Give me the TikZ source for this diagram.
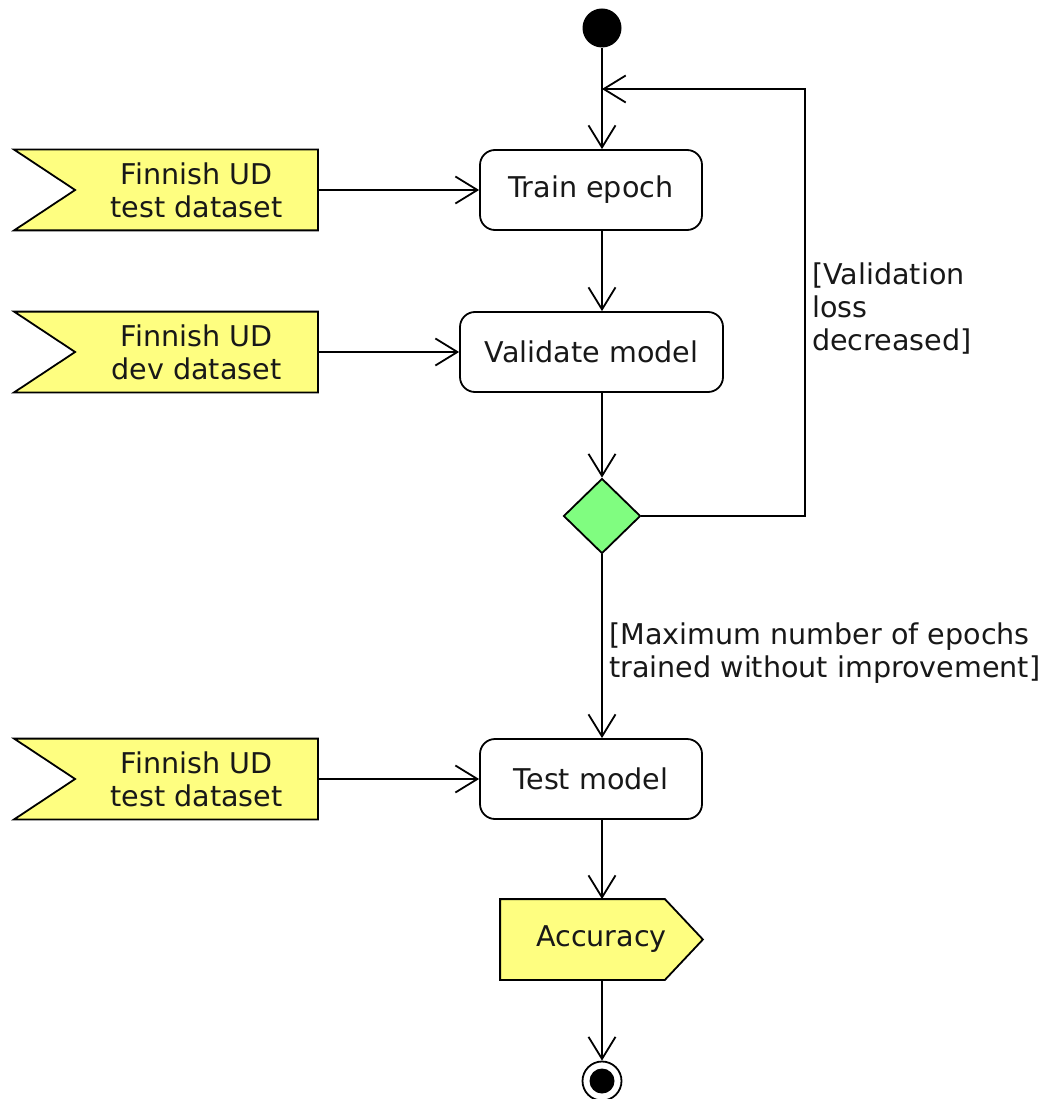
\documentclass[tikz,border=0pt]{standalone}
\usepackage{fontspec}
\setmainfont{DejaVu Sans}
\usetikzlibrary{arrows.meta,shapes.geometric,calc}
\pgfdeclarelayer{bg}
\pgfsetlayers{bg,main}
\definecolor{dyellow}{HTML}{FEFE80}
\definecolor{dgreen}{HTML}{80FD80}
\definecolor{txt}{HTML}{181818}
\begin{document}
\begin{tikzpicture}[x=1pt,y=-1pt,line width=1.8pt,
  font=\fontsize{28.6}{33}\selectfont,text=txt,
  arr/.style={line width=1.8pt,-{Straight Barb[length=22pt,width=27pt]}},
  act/.style={draw,line width=1.8pt,rounded corners=15pt,minimum height=80pt,inner sep=0pt,fill=white},
  datain/.style={minimum width=241pt,minimum height=79pt,inner sep=0pt,align=center},
  shp/.style={draw,line width=1.8pt,fill=dyellow},
  lbl/.style={anchor=west,align=left,inner sep=0pt}]
\useasboundingbox (0,0) rectangle (1043,1099);

\node[circle,fill=black,minimum size=39pt,inner sep=0pt] (start) at (602,28) {};
\coordinate (merge) at (602,89);
\coordinate (loopc) at (805,89);

\node[act,minimum width=222pt] (train) at (591,190) {Train epoch};
\node[act,minimum width=263pt] (valid) at (591.5,352) {Validate model};
\node[diamond,draw,line width=1.8pt,fill=dgreen,minimum width=77pt,minimum height=75pt,inner sep=0pt] (dec) at (602,516) {};
\node[act,minimum width=222pt] (test) at (591,779) {Test model};
\node[minimum width=201pt,minimum height=79pt,inner sep=0pt] (acc) at (601.5,939.5) {Accuracy};
\node[circle,draw,line width=1.8pt,fill=white,minimum size=39pt,inner sep=0pt] (endo) at (602,1081) {};
\node[circle,fill=black,minimum size=25pt,inner sep=0pt] (endi) at (endo) {};

\node[datain] (d1) at (196.5,190) {Finnish UD\\test dataset};
\node[datain] (d2) at (196.5,352) {Finnish UD\\dev dataset};
\node[datain] (d3) at (196.5,779) {Finnish UD\\test dataset};

\begin{pgfonlayer}{bg}
  \foreach \d in {d1,d2,d3}{
    \draw[shp] (\d.north east) -- ($(\d.north west)+(-61,0)$) -- (\d.west) -- ($(\d.south west)+(-61,0)$) -- (\d.south east) -- cycle;
  }
  \draw[shp] (acc.north west) -- ($(acc.north east)+(-38,0)$) -- (acc.east) -- ($(acc.south east)+(-38,0)$) -- (acc.south west) -- cycle;
\end{pgfonlayer}

\draw[arr] (start) -- (train.north -| start);
\draw[arr] (train.south -| start) -- (valid.north -| start);
\draw[arr] (valid.south -| start) -- (dec.north);
\draw[arr] (dec.east) -| (loopc) -- (merge);
\draw[arr] (dec.south) -- (test.north -| start);
\draw[arr] (test.south -| start) -- (acc.north -| start);
\draw[arr] (acc.south -| start) -- (endo.north);

\draw[arr] (d1.east) -- (train.west);
\draw[arr] (d2.east) -- (valid.west);
\draw[arr] (d3.east) -- (test.west);

\node[lbl] (l1) at (812,309) {[Validation\\loss\\decreased]};
\node[lbl] (l2) at (609,653) {[Maximum number of epochs\\trained without improvement]};
\end{tikzpicture}
\end{document}
